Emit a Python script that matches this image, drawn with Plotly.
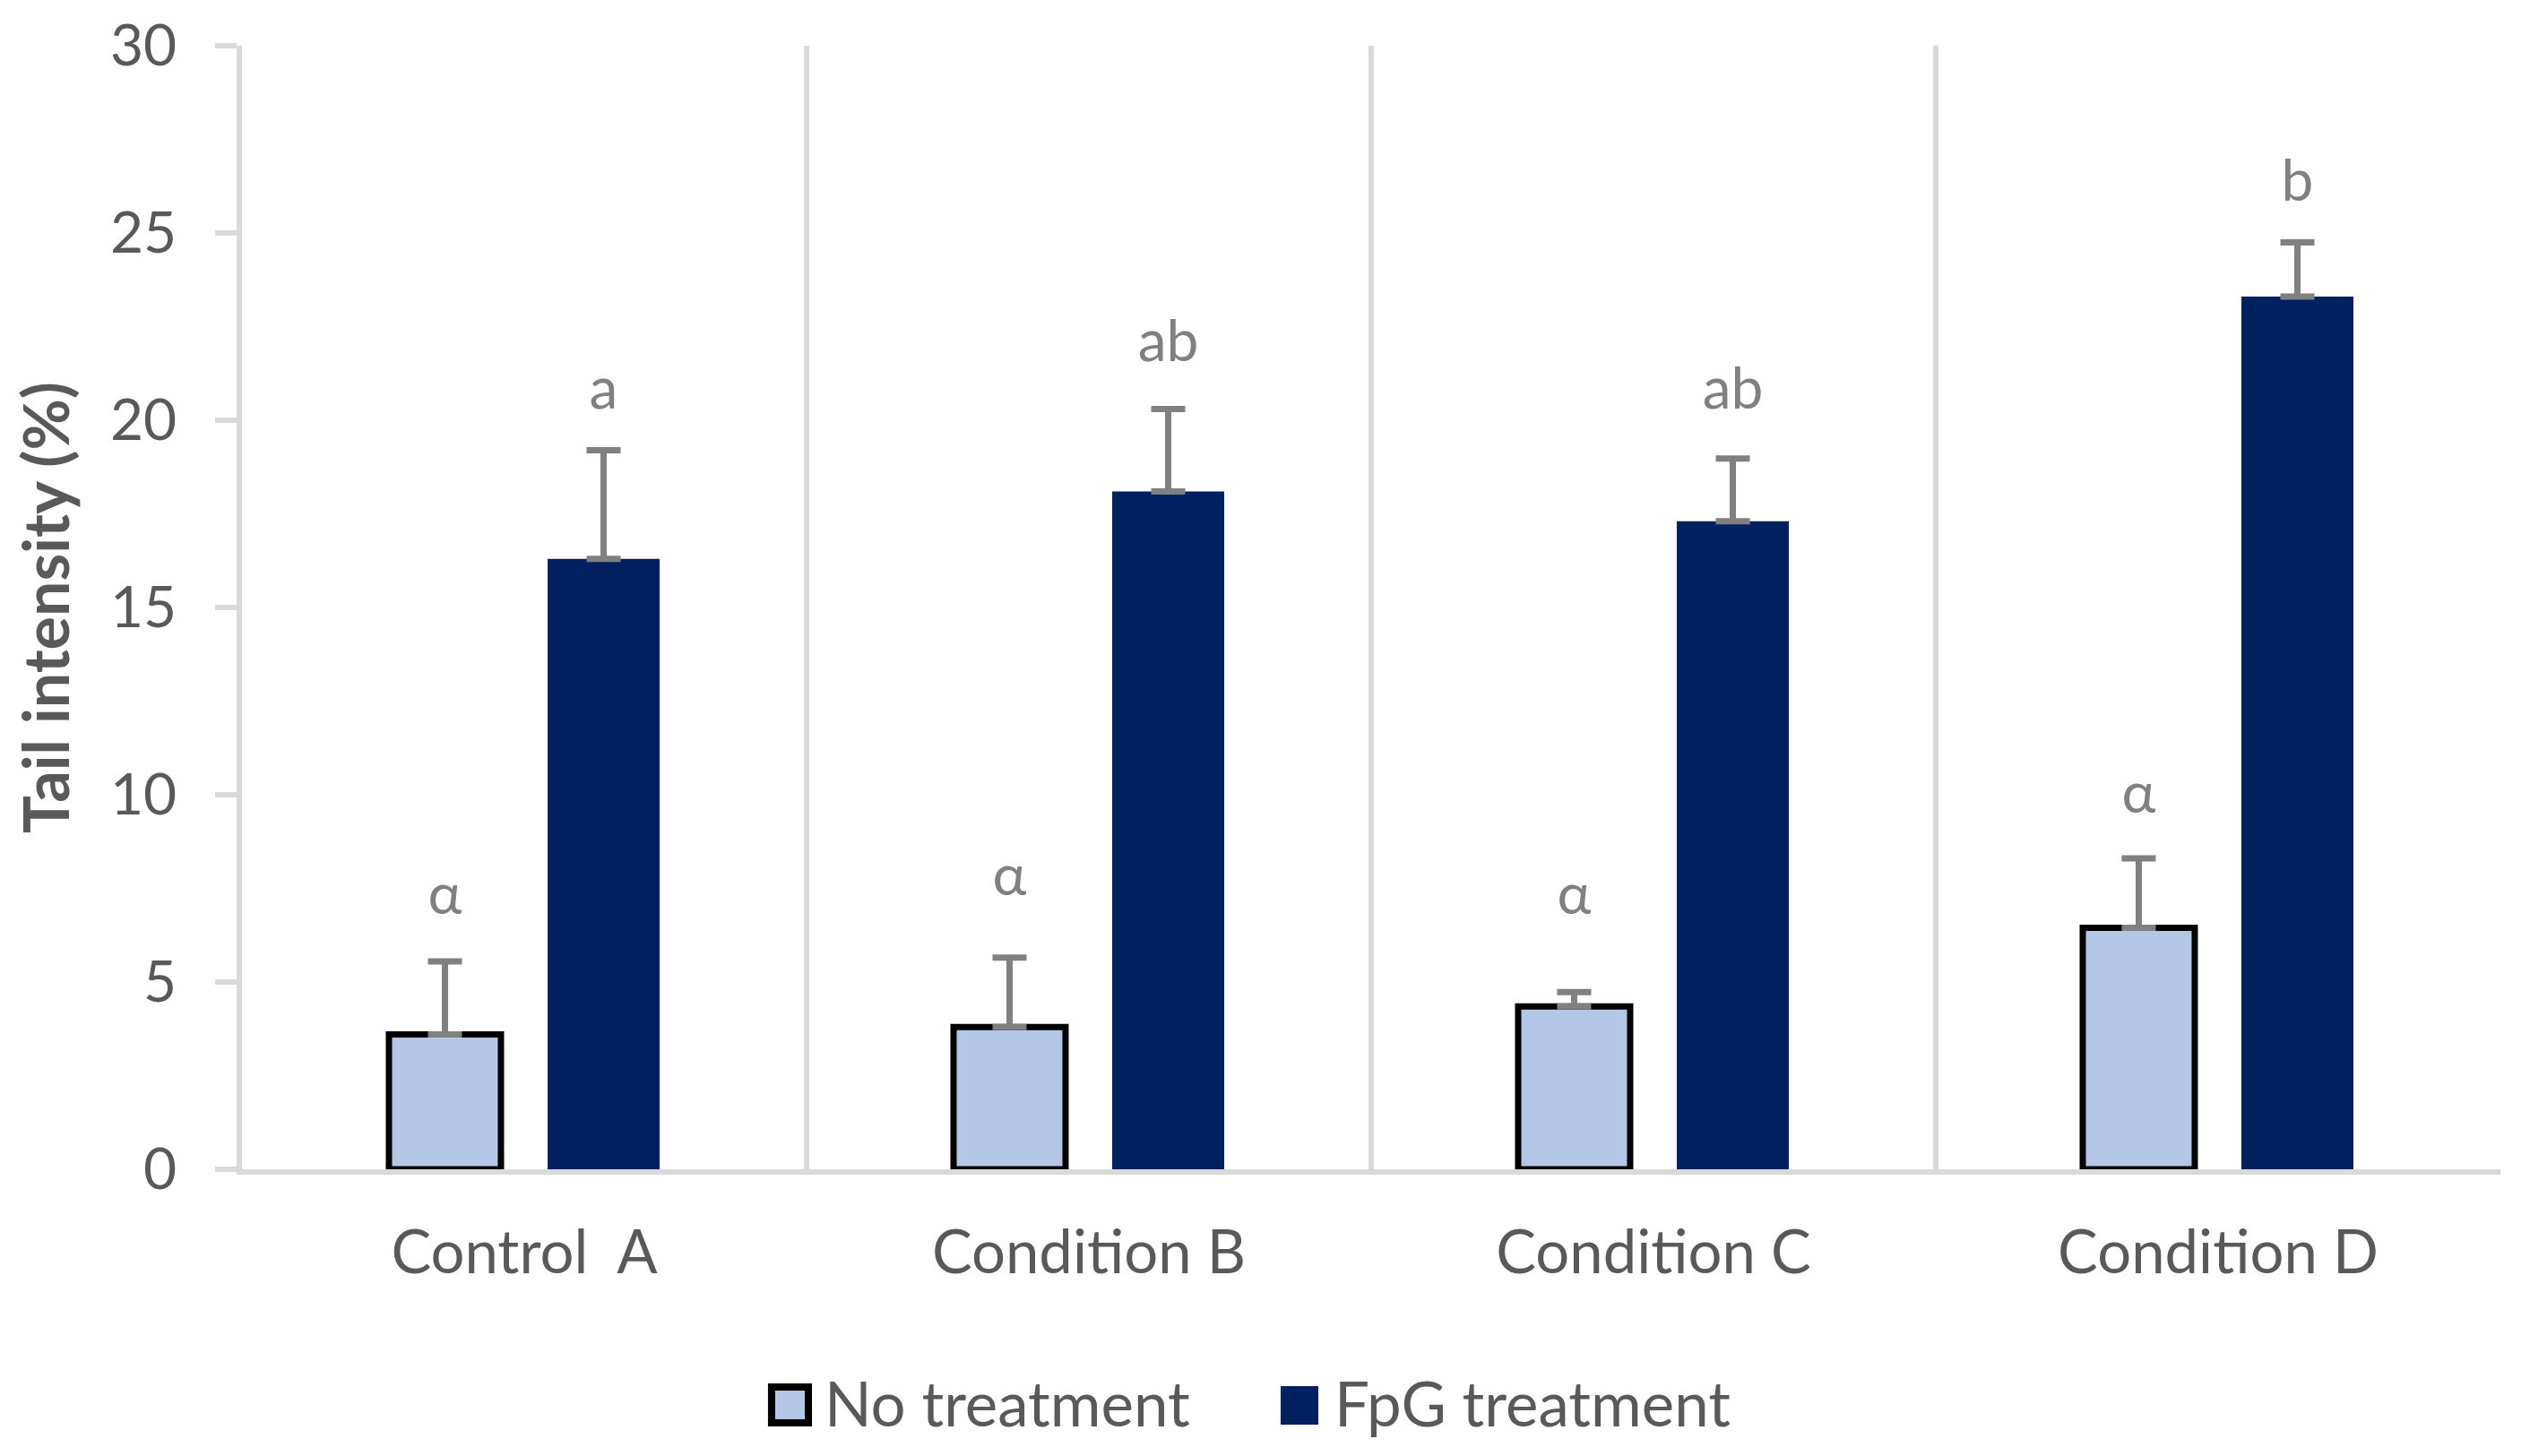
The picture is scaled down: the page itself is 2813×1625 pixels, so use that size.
import plotly.graph_objects as go

# ---------------- data ----------------
categories = ["Control  A", "Condition B", "Condition C", "Condition D"]
series_names = ["No treatment", "FpG treatment"]
no_treatment = [3.6, 3.8, 4.35, 6.45]
no_treatment_err = [1.95, 1.85, 0.38, 1.85]
fpg_treatment = [16.3, 18.1, 17.3, 23.3]
fpg_treatment_err = [2.9, 2.2, 1.68, 1.45]
no_letters = ["α", "α", "α", "α"]
no_letter_y = [7.2, 7.7, 7.2, 9.9]
fpg_letters = ["a", "ab", "ab", "b"]
fpg_letter_y = [20.7, 21.95, 20.7, 26.25]
y_ticks = [0, 5, 10, 15, 20, 25, 30]

# ---------------- styles ----------------
LIGHT = "#B4C7E7"
DARK = "#002060"
AXIS_GREY = "#D9D9D9"
TEXT_GREY = "#595959"
ERR_GREY = "#808080"
FONT = "Lato"

fig = go.Figure()

fig.add_trace(go.Bar(
    name=series_names[0], x=categories, y=no_treatment,
    marker=dict(color=LIGHT, line=dict(color="black", width=7)),
    error_y=dict(type="data", array=no_treatment_err, symmetric=False,
                 arrayminus=[0] * len(no_treatment_err),
                 color=ERR_GREY, thickness=7, width=19),
    offsetgroup="0", showlegend=False,
))
fig.add_trace(go.Bar(
    name=series_names[1], x=categories, y=fpg_treatment,
    marker=dict(color=DARK, line=dict(width=0)),
    error_y=dict(type="data", array=fpg_treatment_err, symmetric=False,
                 arrayminus=[0] * len(fpg_treatment_err),
                 color=ERR_GREY, thickness=7, width=19),
    offsetgroup="1", showlegend=False,
))

# significance letters, grouped like the bars
fig.add_trace(go.Scatter(
    x=categories, y=no_letter_y, text=no_letters, mode="text",
    textposition="middle center", offsetgroup="0",
    textfont=dict(family=FONT, size=64, color=ERR_GREY),
    showlegend=False, hoverinfo="skip",
))
fig.add_trace(go.Scatter(
    x=categories, y=fpg_letter_y, text=fpg_letters, mode="text",
    textposition="middle center", offsetgroup="1",
    textfont=dict(family=FONT, size=64, color=ERR_GREY),
    showlegend=False, hoverinfo="skip",
))

# ---------------- custom legend (large swatches) ----------------
legend_shapes = [
    dict(type="rect", xref="paper", yref="paper",
         x0=0.2345, x1=0.2508, y0=-0.2257, y1=-0.1938,
         fillcolor=LIGHT, line=dict(color="black", width=8)),
    dict(type="rect", xref="paper", yref="paper",
         x0=0.4599, x1=0.4766, y0=-0.2273, y1=-0.1930,
         fillcolor=DARK, line=dict(width=0)),
]
legend_annots = [
    dict(xref="paper", yref="paper", x=0.2570, y=-0.2081,
         text=series_names[0], showarrow=False, xanchor="left", yanchor="middle",
         font=dict(family=FONT, size=69, color=TEXT_GREY)),
    dict(xref="paper", yref="paper", x=0.4830, y=-0.2081,
         text=series_names[1], showarrow=False, xanchor="left", yanchor="middle",
         font=dict(family=FONT, size=69, color=TEXT_GREY)),
]

fig.update_layout(
    width=2797, height=1609,
    margin=dict(l=262, r=15, t=43, b=312, autoexpand=False),
    paper_bgcolor="white", plot_bgcolor="white",
    barmode="group", bargap=0.438, bargroupgap=0.294,
    scattermode="group", scattergap=0.438,
    shapes=legend_shapes, annotations=legend_annots,
    showlegend=False,
    font=dict(family=FONT, color=TEXT_GREY),
)

fig.update_xaxes(
    type="category", tickson="boundaries", ticks="",
    showgrid=True, gridcolor=AXIS_GREY, gridwidth=6,
    showline=True, linecolor=AXIS_GREY, linewidth=6,
    tickfont=dict(family=FONT, size=67, color=TEXT_GREY),
    ticklabelstandoff=30, zeroline=False,
)
fig.update_yaxes(
    range=[0, 30], tickvals=y_ticks, ticktext=[str(v) for v in y_ticks],
    showgrid=False, zeroline=False,
    showline=True, linecolor=AXIS_GREY, linewidth=6,
    ticks="outside", ticklen=24, tickwidth=6, tickcolor=AXIS_GREY,
    tickfont=dict(family=FONT, size=64, color=TEXT_GREY),
    ticklabelstandoff=30,
    title=dict(text="<b>Tail intensity (%)</b>", standoff=28,
               font=dict(family=FONT, size=70, color=TEXT_GREY)),
)

fig.write_html("out.html")
